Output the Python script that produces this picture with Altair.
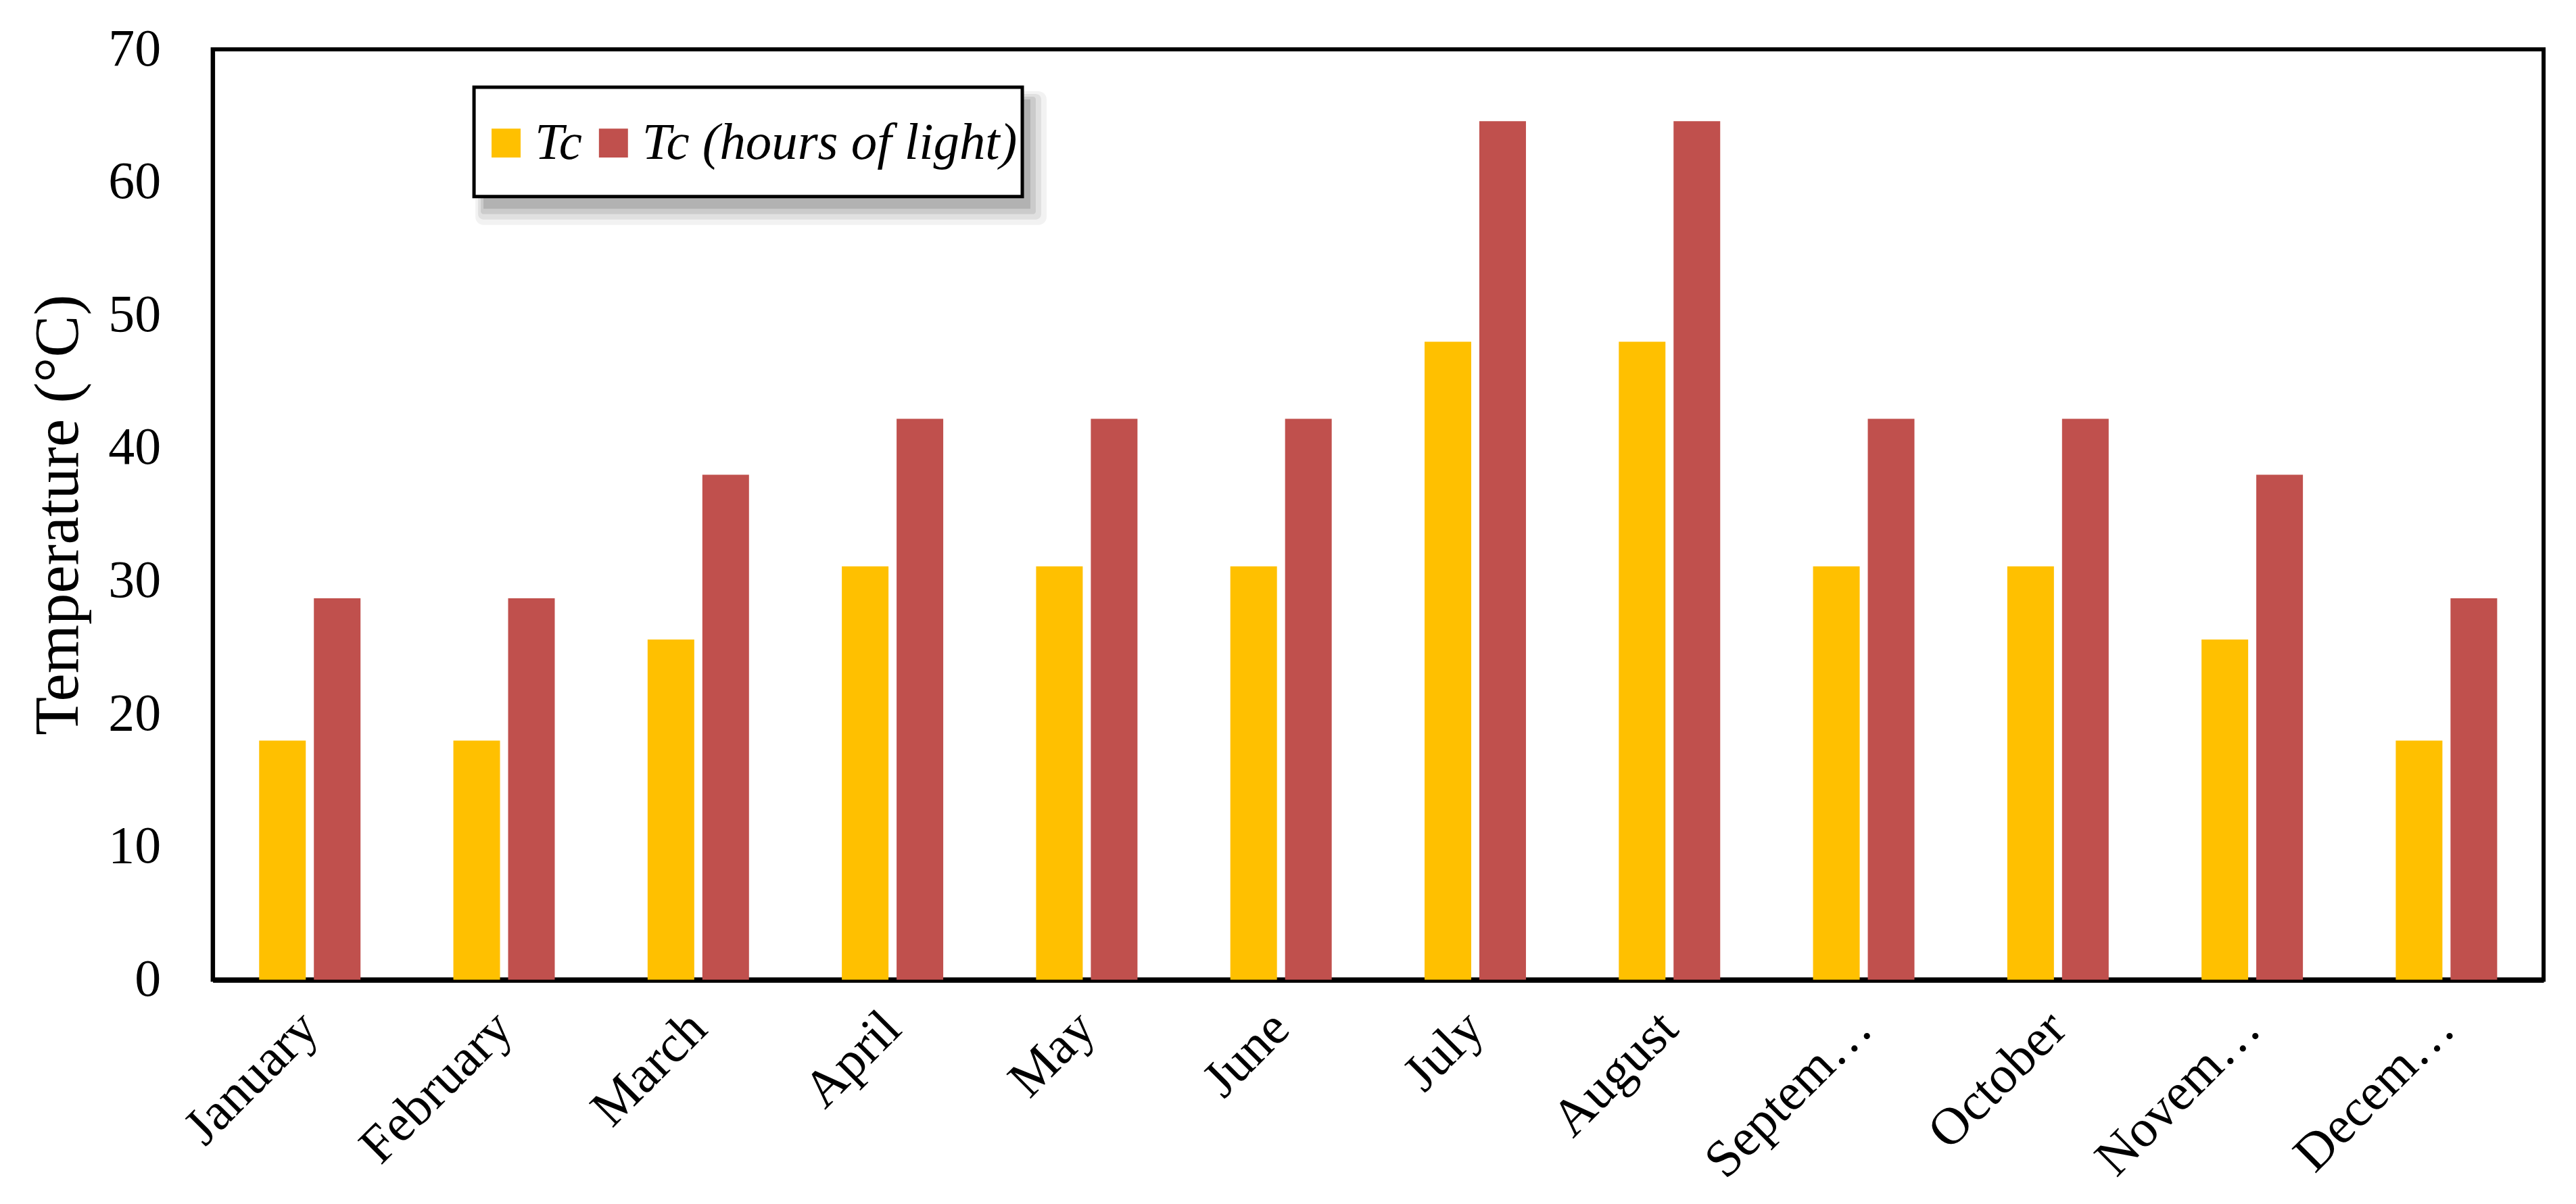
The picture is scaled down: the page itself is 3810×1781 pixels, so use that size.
import altair as alt
import pandas as pd

months = ["January", "February", "March", "April", "May", "June", "July",
          "August", "Septem…", "October", "Novem…", "Decem…"]
tc = [18.0, 18.0, 25.6, 31.1, 31.1, 31.1, 48.0, 48.0, 31.1, 31.1, 25.6, 18.0]
tc_light = [28.7, 28.7, 38.0, 42.2, 42.2, 42.2, 64.6, 64.6, 42.2, 42.2, 38.0, 28.7]
series = ["Tc", "Tc (hours of light)"]
colors = ["#FFC000", "#C0504D"]
y_ticks = [0, 10, 20, 30, 40, 50, 60, 70]

rows = []
for m, a, b in zip(months, tc, tc_light):
    rows.append({"month": m, "series": series[0], "value": a})
    rows.append({"month": m, "series": series[1], "value": b})
df = pd.DataFrame(rows)

FONT = "Liberation Serif"

one = pd.DataFrame({"k": [0]})

# legend frame (decoration) and its soft shadow
BX, BX2, BY, BY2 = 387, 1199, 56, 218
shadow_layers = []
for e, op in [(24, 0.05), (16, 0.07), (8, 0.09), (0, 0.12)]:
    shadow_layers.append(
        alt.Chart(one).mark_rect(color="black", opacity=op, cornerRadius=e / 2).encode(
            x=alt.value(BX + 14 - e / 2), x2=alt.value(BX2 + 12 + e),
            y=alt.value(BY + 18 - e / 2), y2=alt.value(BY2 + 18 + e),
        )
    )
box = alt.Chart(one).mark_rect(fill="white", stroke="black", strokeWidth=5).encode(
    x=alt.value(BX), x2=alt.value(BX2), y=alt.value(BY), y2=alt.value(BY2)
)

bars = alt.Chart(df).mark_bar().encode(
    x=alt.X(
        "month:N", sort=months,
        scale=alt.Scale(paddingInner=0.478, paddingOuter=0.239),
        axis=alt.Axis(title=None, labelAngle=-45, labelAlign="right",
                      labelBaseline="middle", labelFont=FONT, labelFontSize=78,
                      labelColor="black", ticks=False, tickSize=0, labelPadding=60,
                      domainColor="black", domainWidth=8, labelLimit=2000,
                      labelOverlap=False),
    ),
    xOffset=alt.XOffset("series:N", sort=series, scale=alt.Scale(paddingInner=0.148)),
    y=alt.Y(
        "value:Q", scale=alt.Scale(domain=[0, 70], nice=False),
        axis=alt.Axis(values=y_ticks, title="Temperature (°C)", titleFont=FONT,
                      titleFontSize=93, titleFontWeight="normal", titleColor="black",
                      titlePadding=25, labelFont=FONT, labelFontSize=78,
                      labelColor="black", labelPadding=77, ticks=False, tickSize=0,
                      grid=False, domainColor="black", domainWidth=6),
    ),
    color=alt.Color(
        "series:N",
        scale=alt.Scale(domain=series, range=colors),
        legend=alt.Legend(title=None, orient="none", legendX=396, legendY=100,
                          direction="horizontal", symbolType="square", symbolSize=1850,
                          symbolStrokeWidth=0, labelFont=FONT, labelFontSize=77,
                          labelFontStyle="italic", labelColor="black", labelOffset=4,
                          columnPadding=8, padding=0, labelLimit=2000),
    ),
)

chart = alt.layer(*shadow_layers, box, bars).properties(
    width=3452, height=1378,
    background="white",
    autosize=alt.AutoSizeParams(type="none"),
    padding={"left": 307, "top": 64, "right": 40, "bottom": 320},
).configure_view(stroke="black", strokeWidth=6)

chart.save("out.html", embed_options={"renderer": "svg", "actions": False})
